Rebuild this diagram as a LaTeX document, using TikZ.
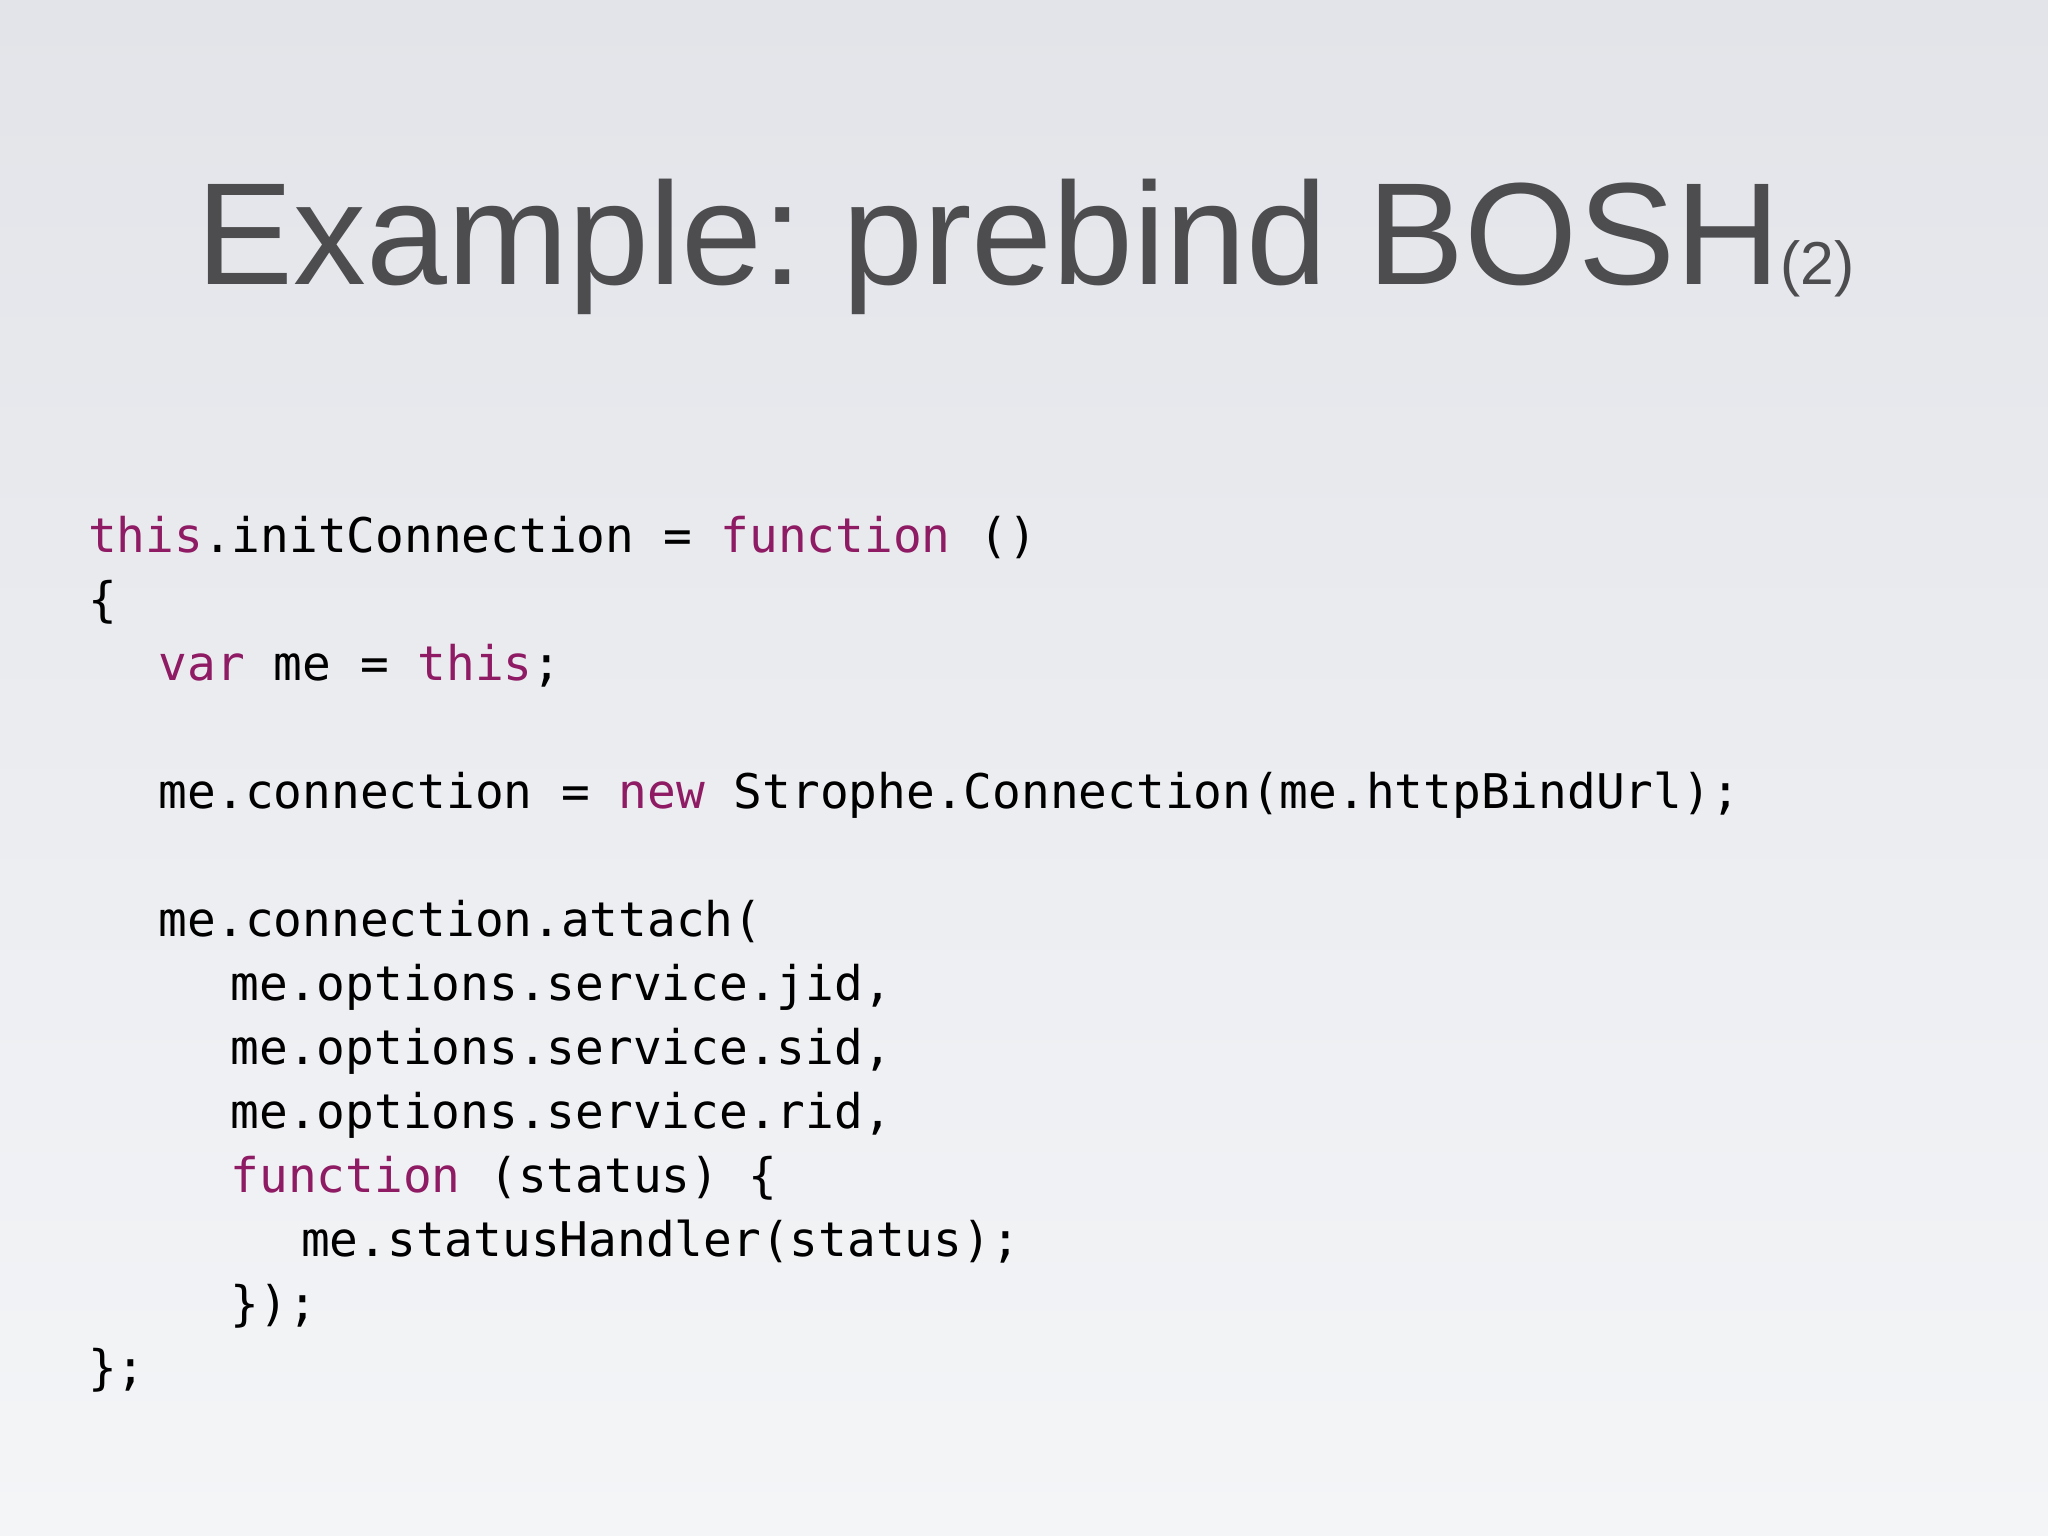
\documentclass[tikz,border=0pt]{standalone}
\usepackage{fontspec}
\setmainfont{Liberation Sans}
\newfontfamily\codefont{DejaVu Sans Mono}
\definecolor{kw}{HTML}{8E1B63}
\definecolor{tt}{HTML}{4D4D4F}
\begin{document}
\begin{tikzpicture}[x=0.0125cm,y=-0.0125cm,
  code/.style={anchor=base west,inner sep=0pt,font=\codefont\fontsize{13pt}{15pt}\selectfont,text=black}]
\shade[top color={rgb,255:red,226;green,228;blue,233},bottom color={rgb,255:red,244;green,245;blue,247}] (0,0) rectangle (1568,1176);
\useasboundingbox (0,0) rectangle (1568,1176);
\node[anchor=base west,inner sep=0pt,text=tt,font=\fontsize{39.6pt}{44pt}\selectfont] (title) at (150,218) {Example:\hspace{-0.1em} prebind BOSH{\fontsize{16.5pt}{20pt}\selectfont(2)}};
\newcommand\kw[1]{\textcolor{kw}{#1}}
\node[code] (l1) at (67,423) {\kw{this}.initConnection = \kw{function} ()};
\node[code] (l2) at (67,472) {\{};
\node[code] (l3) at (121,521) {\kw{var} me = \kw{this};};
\node[code] (l4) at (121,619) {me.connection = \kw{new} Strophe.Connection(me.httpBindUrl);};
\node[code] (l5) at (121,717) {me.connection.attach(};
\node[code] (l6) at (176,766) {me.options.service.jid,};
\node[code] (l7) at (176,815) {me.options.service.sid,};
\node[code] (l8) at (176,864) {me.options.service.rid,};
\node[code] (l9) at (176,913) {\kw{function} (status) \{};
\node[code] (l10) at (230,962) {me.statusHandler(status);};
\node[code] (l11) at (176,1011) {\});};
\node[code] (l12) at (67,1060) {\};};
\end{tikzpicture}
\end{document}
